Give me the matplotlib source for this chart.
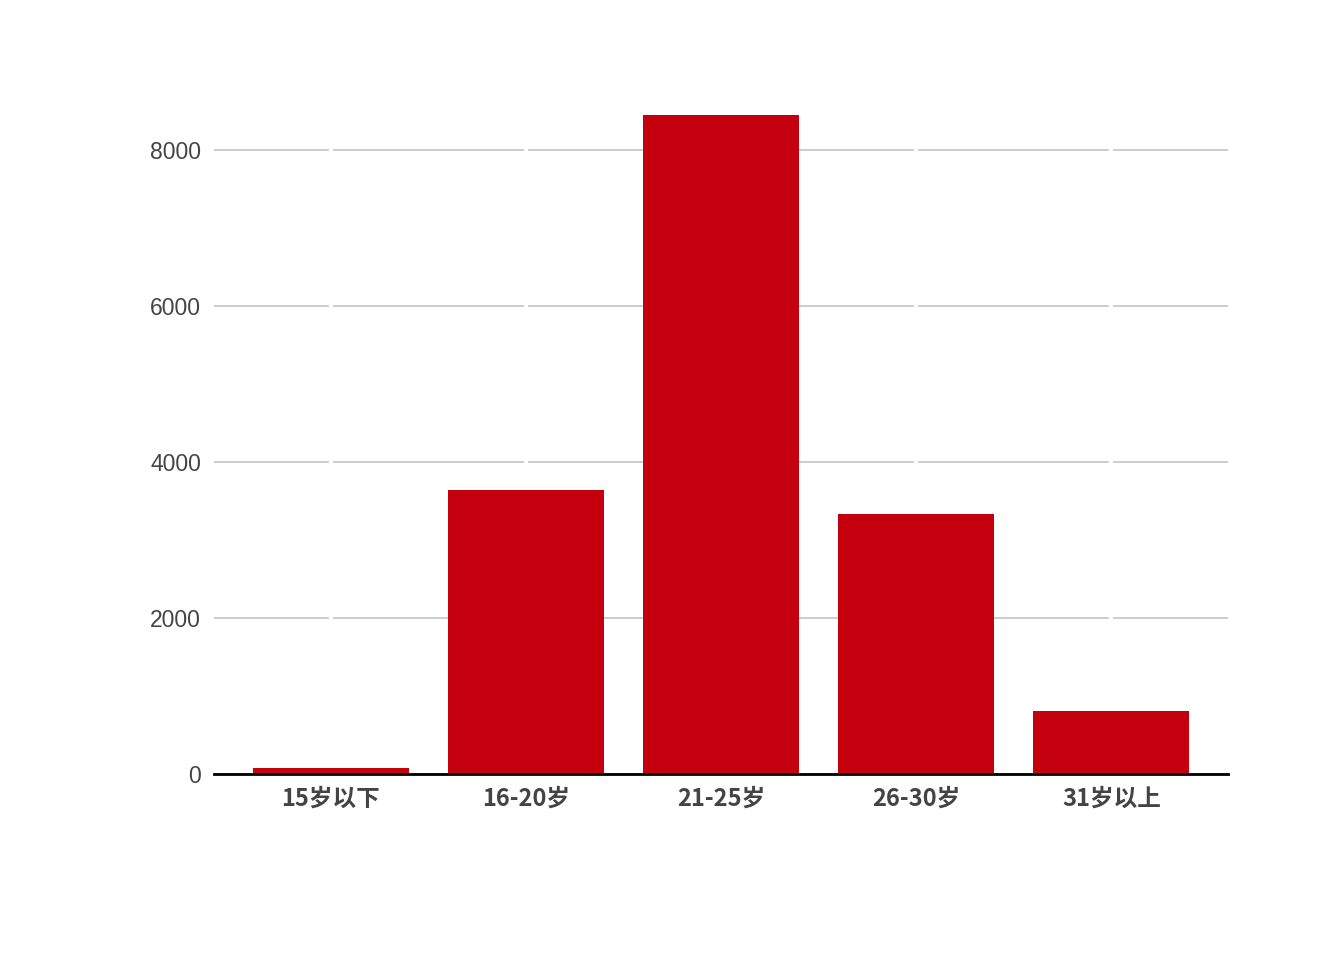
import matplotlib
matplotlib.use('Agg')
import matplotlib.pyplot as plt
import numpy as np

# age group counts
categories = ['15岁以下', '16-20岁', '21-25岁', '26-30岁', '31岁以上']
counts = [80, 3640, 8450, 3335, 810]
yticks = [0, 2000, 4000, 6000, 8000]

plt.rcParams['font.family'] = ['Liberation Sans', 'DejaVu Sans']

fig = plt.figure(figsize=(13.44, 9.6), dpi=100)
ax = fig.add_axes([0.159, 0.194, 0.755, 0.715])

x = np.arange(len(categories))
ax.bar(x, counts, width=0.8, color='#C4000F', zorder=3)

ax.set_xlim(-0.6, len(categories) - 0.4)
ax.set_ylim(0, 8800)
ax.set_yticks(yticks)
ax.set_yticklabels([str(t) for t in yticks], fontsize=16.5, color='#444444')
ax.set_xticks(x)
ax.set_xticklabels(categories, fontsize=17, color='#444444', fontweight='bold',
                   family=['Noto Sans CJK SC', 'DejaVu Sans'])

# grid: grey horizontal, thin white vertical cutting through it
ax.grid(axis='y', color='#c8c8c8', linewidth=1.3, zorder=1)
ax.set_axisbelow(True)
for xi in x:
    ax.axvline(xi, color='white', linewidth=3, zorder=2)
ax.tick_params(length=0)
ax.tick_params(axis='x', pad=9)
ax.tick_params(axis='y', pad=9)
for s in ['top', 'right', 'left']:
    ax.spines[s].set_visible(False)
ax.spines['bottom'].set_color('black')
ax.spines['bottom'].set_linewidth(2)
ax.spines['bottom'].set_zorder(4)

plt.savefig('out.png', dpi=100)
